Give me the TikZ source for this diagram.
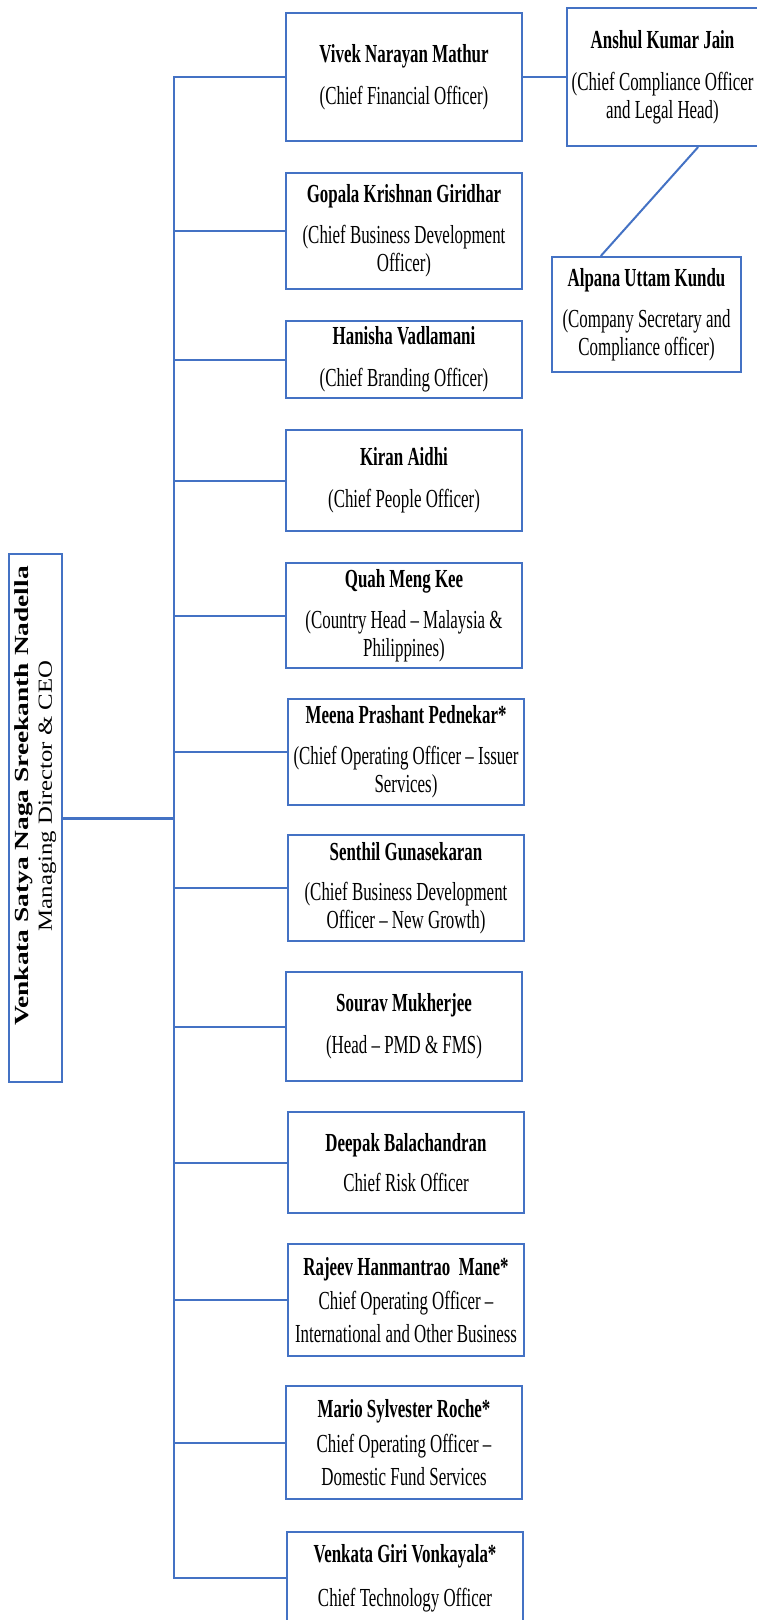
\documentclass[tikz,border=0pt]{standalone}
\usepackage{fontspec}
\setmainfont{Liberation Serif}
\newfontfamily\narrowserif{Liberation Serif}[FakeStretch=0.65]
\newfontfamily\ceoboldserif{Liberation Serif}[FakeStretch=1.37]
\newfontfamily\ceoserif{Liberation Serif}[FakeStretch=1.24]
\usepackage{xcolor}
\definecolor{chartblue}{HTML}{4472C4}

\begin{document}
\begin{tikzpicture}[x=1pt,y=-1pt,
 post/.style={draw=chartblue,line width=2pt,fill=white,align=center,inner sep=0pt,minimum width=236pt,font=\narrowserif\fontsize{26}{28}\selectfont},
 postloose/.style={post,font=\narrowserif\fontsize{26}{33}\selectfont},
 link/.style={draw=chartblue,line width=2pt}]
\useasboundingbox (0,0) rectangle (756,1620);
\coordinate (spine) at (174,0);
\node[draw=chartblue,line width=2pt,minimum width=53pt,minimum height=528pt] (ceo) at (35.5,818) {};
\node[rotate=90,align=center,font=\fontsize{20}{23}\selectfont] (ceoname) at (35.5,796) {{\ceoboldserif\bfseries Venkata Satya Naga Sreekanth Nadella}\\{\ceoserif Managing Director \& CEO}};
\node[post,minimum height=128pt] (cfo) at (404,77) {\textbf{Vivek Narayan Mathur}\\[14pt](Chief Financial Officer)};
\node[post,minimum height=116pt] (cbdo) at (404,231) {\textbf{Gopala Krishnan Giridhar}\\[13pt](Chief Business Development\\Officer)};
\node[post,minimum height=77pt] (cbo) at (404,359.5) {\textbf{Hanisha Vadlamani}\\[14pt](Chief Branding Officer)};
\node[post,minimum height=101pt] (cpo) at (404,480.5) {\textbf{Kiran Aidhi}\\[14pt](Chief People Officer)};
\node[post,minimum height=105pt] (chMal) at (404,615.5) {\textbf{Quah Meng Kee}\\[13pt](Country Head – Malaysia \&\\Philippines)};
\node[post,minimum height=106pt] (cooIss) at (406,752) {\textbf{Meena Prashant Pednekar*}\\[13pt](Chief Operating Officer – Issuer\\Services)};
\node[post,minimum height=106pt] (cbdoNG) at (406,888) {\textbf{Senthil Gunasekaran}\\[12pt](Chief Business Development\\Officer – New Growth)};
\node[post,minimum height=109pt] (hPMD) at (404,1026.5) {\textbf{Sourav Mukherjee}\\[14pt](Head – PMD \& FMS)};
\node[post,minimum height=101pt] (cro) at (406,1162.5) {\textbf{Deepak Balachandran}\\[12pt]Chief Risk Officer};
\node[postloose,minimum height=112pt] (cooInt) at (406,1300) {\textbf{Rajeev Hanmantrao~ Mane*}\\[1pt]Chief Operating Officer –\\International and Other Business};
\node[postloose,minimum height=113pt] (cooDom) at (404,1442.5) {\textbf{Mario Sylvester Roche*}\\[2pt]Chief Operating Officer –\\Domestic Fund Services};
\node[post,minimum height=92pt] (cto) at (405,1578) {\textbf{Venkata Giri Vonkayala*}\\[16pt]Chief Technology Officer};
\node[post,minimum width=191pt,minimum height=138pt] (cco) at (662.5,77) {\textbf{Anshul Kumar Jain}\\[14pt](Chief Compliance Officer\\and Legal Head)};
\node[post,minimum width=189pt,minimum height=115pt] (cs) at (646.5,314.5) {\textbf{Alpana Uttam Kundu}\\[13pt](Company Secretary and\\Compliance officer)};
\draw[link] (cfo.west) -- (cfo.west -| spine) -- (cto.west -| spine) -- (cto.west);
\draw[link] (cbdo.west) -- (cbdo.west -| spine);
\draw[link] (cbo.west) -- (cbo.west -| spine);
\draw[link] (cpo.west) -- (cpo.west -| spine);
\draw[link] (chMal.west) -- (chMal.west -| spine);
\draw[link] (cooIss.west) -- (cooIss.west -| spine);
\draw[link] (cbdoNG.west) -- (cbdoNG.west -| spine);
\draw[link] (hPMD.west) -- (hPMD.west -| spine);
\draw[link] (cro.west) -- (cro.west -| spine);
\draw[link] (cooInt.west) -- (cooInt.west -| spine);
\draw[link] (cooDom.west) -- (cooDom.west -| spine);
\draw[link,line width=3pt] (ceo.east) -- (ceo.east -| spine);
\draw[link] (cfo.east) -- (cco.west);
\draw[link] (cco.-63) -- (cs.128);
\end{tikzpicture}
\end{document}
